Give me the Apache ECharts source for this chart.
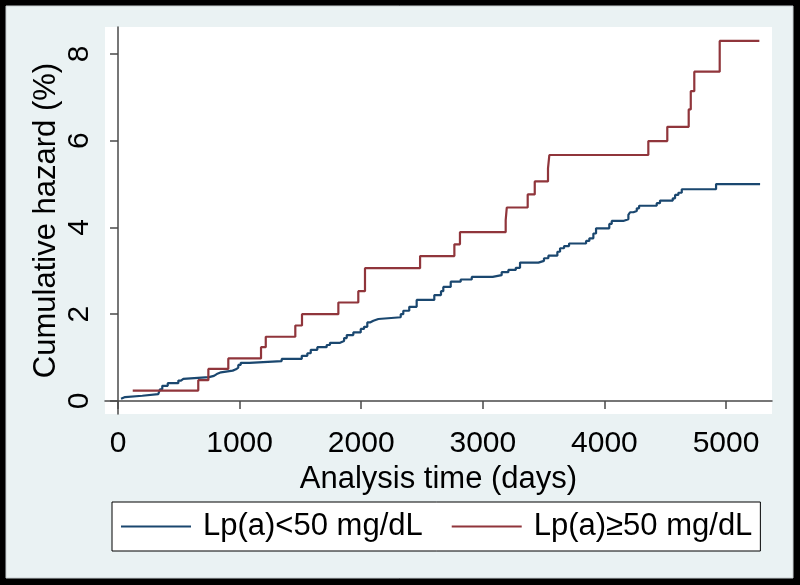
<!DOCTYPE html>
<html>
<head>
<meta charset="utf-8">
<script src="https://cdn.jsdelivr.net/npm/echarts@6/dist/echarts.min.js"></script>
<style>
html,body{margin:0;padding:0;background:#000;}
#chart{width:800px;height:585px;}
</style>
</head>
<body>
<div id="chart"></div>
<script>
const seriesNames = ['Lp(a)<50 mg/dL', 'Lp(a)\u226550 mg/dL'];
const blueTime = [25,39,58,200,331,345,364,409,496,518,537,748,789,812,847,943,970,989,1009,1080,1346,1511,1557,1585,1639,1716,1743,1826,1859,1881,1935,1996,2023,2050,2072,2100,2141,2325,2346,2395,2456,2601,2656,2675,2736,2818,2909,3081,3155,3210,3271,3306,3457,3503,3539,3613,3635,3668,3709,3849,3876,3909,3931,4040,4060,4155,4197,4211,4238,4266,4285,4430,4457,4562,4581,4608,4636,4918,5280];
const blueHazard = [0.05,0.09,0.12,0.16,0.20,0.27,0.35,0.41,0.47,0.51,0.55,0.58,0.62,0.66,0.70,0.73,0.77,0.83,0.88,0.92,0.97,1.04,1.10,1.18,1.24,1.29,1.34,1.38,1.45,1.52,1.58,1.66,1.71,1.81,1.85,1.89,1.93,2.00,2.08,2.17,2.33,2.44,2.53,2.63,2.75,2.80,2.86,2.90,2.97,3.02,3.07,3.19,3.23,3.29,3.35,3.44,3.52,3.57,3.63,3.69,3.75,3.86,3.98,4.08,4.15,4.19,4.29,4.35,4.38,4.44,4.50,4.56,4.62,4.67,4.75,4.80,4.88,5.00,5.00];
const redTime = [121,660,743,907,1176,1215,1458,1513,1812,1976,2031,2484,2766,2812,3188,3197,3369,3427,3536,3547,4361,4517,4693,4710,4739,4948,5274];
const redHazard = [0.24,0.48,0.74,0.98,1.24,1.48,1.74,2.00,2.27,2.53,3.06,3.34,3.61,3.89,4.17,4.46,4.76,5.06,5.36,5.67,5.99,6.32,6.72,7.14,7.59,8.30,8.30];
const xTicks = [0,1000,2000,3000,4000,5000];
const yTicks = [0,2,4,6,8];

const pair = (xs, ys) => xs.map((x, i) => [x, ys[i]]);
const FONT = "'Liberation Sans', Arial, sans-serif";
const plain = v => String(v);
const chart = echarts.init(document.getElementById('chart'));
chart.setOption({
  backgroundColor: '#000',
  animation: false,
  textStyle: {fontFamily: FONT, color: '#000'},
  graphic: [{
    type: 'rect', z: -10, silent: true,
    shape: {x: 6, y: 6, width: 787, height: 572},
    style: {fill: '#EAF2F3', stroke: '#c8cfd1', lineWidth: 1}
  }],
  grid: {left: 105, top: 27, right: 28, bottom: 171, show: true, backgroundColor: '#fff', borderWidth: 0},
  xAxis: {
    type: 'value', min: -107, max: 5378,
    name: 'Analysis time (days)', nameLocation: 'middle', nameGap: 50, nameMoveOverlap: false,
    nameTextStyle: {fontSize: 31, color: '#000', fontFamily: FONT},
    axisLine: {show: true, lineStyle: {color: '#4a4a4a', width: 1.5}},
    axisTick: {show: true, length: 8, customValues: xTicks, lineStyle: {color: '#4a4a4a', width: 1.5}},
    axisLabel: {customValues: xTicks, formatter: plain, fontSize: 30, margin: 15, color: '#000', fontFamily: FONT},
    splitLine: {show: false}
  },
  yAxis: {
    type: 'value', min: -0.30, max: 8.62,
    name: 'Cumulative hazard (%)', nameLocation: 'middle', nameGap: 43, nameMoveOverlap: false,
    nameTextStyle: {fontSize: 31, color: '#000', fontFamily: FONT},
    axisLine: {show: true, lineStyle: {color: '#4a4a4a', width: 1.5}},
    axisTick: {show: true, length: 8, customValues: yTicks, lineStyle: {color: '#4a4a4a', width: 1.5}},
    axisLabel: {customValues: yTicks, formatter: plain, rotate: 90, fontSize: 30, margin: 10, color: '#000', fontFamily: FONT},
    splitLine: {show: false}
  },
  legend: {
    left: 112, top: 502,
    data: seriesNames,
    icon: 'rect', itemWidth: 70, itemHeight: 2, itemGap: 29,
    backgroundColor: '#fff', borderColor: '#000', borderWidth: 1,
    padding: [9, 8, 9, 9],
    textStyle: {fontSize: 31, color: '#000', fontFamily: FONT, lineHeight: 30, padding: [0, 0, 0, 7]}
  },
  series: [
    {name: seriesNames[0], type: 'line', step: 'end', symbol: 'none',
     data: pair(blueTime, blueHazard), color: '#1A476F',
     lineStyle: {width: 2.2, color: '#1A476F'}},
    {name: seriesNames[1], type: 'line', step: 'end', symbol: 'none',
     data: pair(redTime, redHazard), color: '#90353B',
     lineStyle: {width: 2.2, color: '#90353B'}}
  ]
});
</script>
</body>
</html>
